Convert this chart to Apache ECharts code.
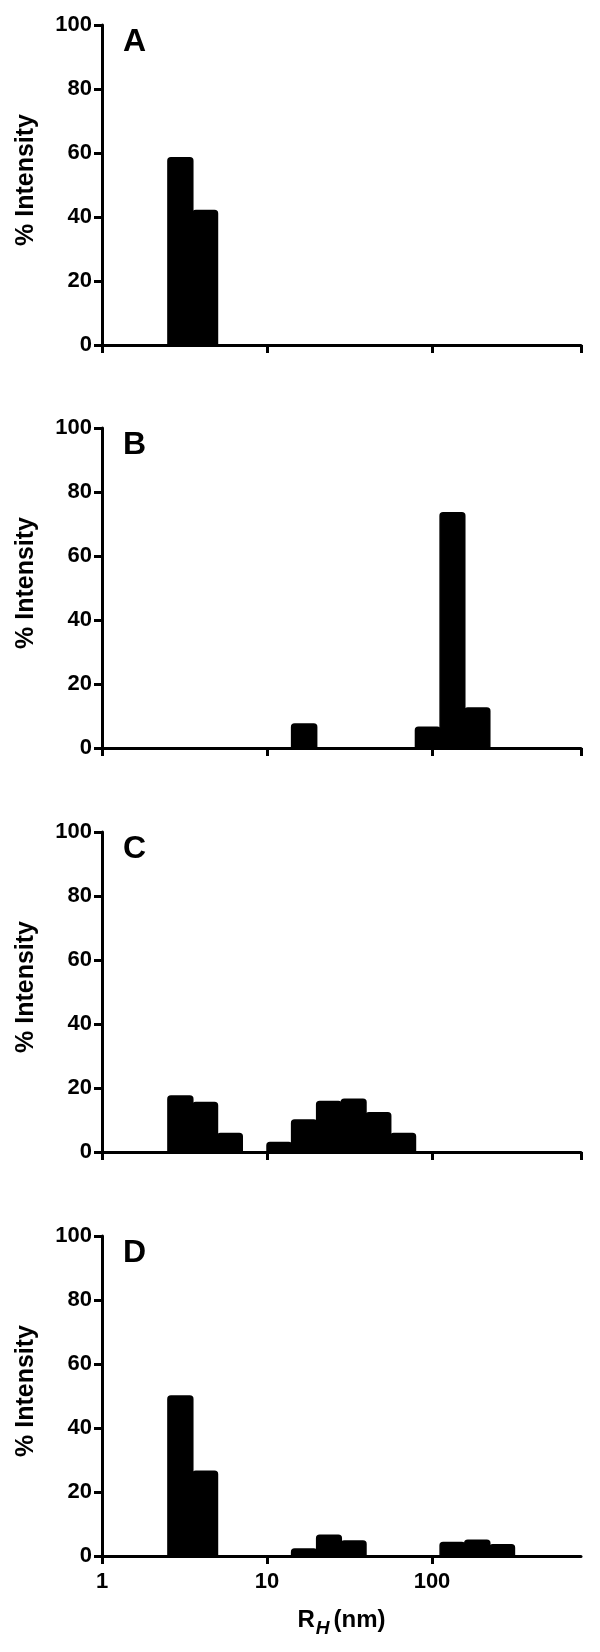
<!DOCTYPE html>
<html>
<head>
<meta charset="utf-8">
<script src="https://cdn.jsdelivr.net/npm/echarts@6/dist/echarts.min.js"></script>
<style>
  html, body { margin: 0; padding: 0; background: #fff; }
  #chart { width: 600px; height: 1652px; }
</style>
</head>
<body>
<div id="chart"></div>
<script>
// Histogram bin edges (nm), log-spaced
const binEdges = [2.51, 3.55, 5.01, 7.08, 10, 14.1, 20.0, 28.2, 39.8, 56.2, 79.4, 112, 158, 224, 316];
// % intensity per bin, one array per panel
const intensityA = [58.5, 42, 0, 0, 0, 0, 0, 0, 0, 0, 0, 0, 0, 0];
const intensityB = [0, 0, 0, 0, 0, 7.5, 0, 0, 0, 0, 6.5, 73.5, 12.5, 0];
const intensityC = [17.5, 15.5, 5.8, 0, 3, 10, 15.8, 16.5, 12.3, 5.8, 0, 0, 0, 0];
const intensityD = [50, 26.5, 0, 0, 0, 2.2, 6.5, 4.7, 0, 0, 0, 4.2, 4.9, 3.5];
const panelLabels = ['A', 'B', 'C', 'D'];
const yTicks = [0, 20, 40, 60, 80, 100];
const xTickLabels = ['1', '10', '100'];

const panels = [intensityA, intensityB, intensityC, intensityD];
const FONT = '"Liberation Sans", Arial, sans-serif';
const tops = [25, 428, 832, 1236];
const H = 320;

const chart = echarts.init(document.getElementById('chart'), null, { renderer: 'canvas' });

const grids = [], xAxes = [], yAxes = [], series = [], titles = [];
panels.forEach((vals, i) => {
  grids.push({ left: 102, width: 479, top: tops[i], height: H, containLabel: false });
  const isLast = i === panels.length - 1;
  xAxes.push({
    type: 'log', logBase: 10, min: 1, max: 800, gridIndex: i,
    axisLine: { show: true, onZero: false, lineStyle: { color: '#000', width: 3 } },
    axisTick: { show: true, length: 8, lineStyle: { color: '#000', width: 3 } },
    minorTick: { show: false },
    splitLine: { show: false },
    axisLabel: {
      show: isLast, margin: 15, showMaxLabel: false,
      color: '#000', fontSize: 22, fontWeight: 'bold', fontFamily: FONT,
      formatter: v => { const s = String(Math.round(v)); return xTickLabels.indexOf(s) >= 0 ? s : ''; }
    },
    name: isLast ? '{r|R}{h|H}{n|(nm)}' : '',
    nameLocation: 'middle', nameGap: 46,
    nameTextStyle: {
      color: '#000', fontFamily: FONT, fontWeight: 'bold',
      rich: {
        r: { fontSize: 24, fontWeight: 'bold', fontFamily: FONT, color: '#000', lineHeight: 36, verticalAlign: 'middle' },
        h: { fontSize: 19, fontWeight: 'bold', fontStyle: 'italic', fontFamily: FONT, color: '#000', verticalAlign: 'bottom', lineHeight: 14, padding: [0, 4, 0, 1] },
        n: { fontSize: 24, fontWeight: 'bold', fontFamily: FONT, color: '#000', lineHeight: 36, verticalAlign: 'middle' }
      }
    }
  });
  yAxes.push({
    type: 'value', min: 0, max: 100, interval: 20, gridIndex: i,
    axisLine: { show: true, lineStyle: { color: '#000', width: 3 } },
    axisTick: { show: true, length: 8, lineStyle: { color: '#000', width: 3 } },
    splitLine: { show: false },
    axisLabel: { color: '#000', fontSize: 22, fontWeight: 'bold', fontFamily: FONT, margin: 10 },
    name: '% Intensity', nameLocation: 'middle', nameRotate: 90, nameGap: 63,
    nameTextStyle: { color: '#000', fontSize: 25, fontWeight: 'bold', fontFamily: FONT, padding: [0, 0, 0, 10] }
  });
  const data = [];
  vals.forEach((v, k) => { if (v > 0) data.push([binEdges[k], binEdges[k + 1], v]); });
  series.push({
    type: 'custom', xAxisIndex: i, yAxisIndex: i,
    encode: { x: [0, 1], y: 2 },
    data: data,
    renderItem: (params, api) => {
      const p0 = api.coord([api.value(0), api.value(2)]);
      const p1 = api.coord([api.value(1), 0]);
      return {
        type: 'rect',
        shape: { x: p0[0], y: p0[1], width: p1[0] - p0[0], height: p1[1] - p0[1], r: [3, 3, 0, 0] },
        style: { fill: '#000', stroke: '#000', lineWidth: 1.5, lineJoin: 'round' }
      };
    },
    z: 1
  });
  titles.push({
    text: panelLabels[i], left: 123, top: tops[i] + 1, padding: 0,
    textStyle: { color: '#000', fontSize: 32, fontWeight: 'bold', fontFamily: FONT }
  });
});

chart.setOption({
  animation: false,
  backgroundColor: '#fff',
  title: titles,
  grid: grids,
  xAxis: xAxes,
  yAxis: yAxes,
  series: series
});
</script>
</body>
</html>
